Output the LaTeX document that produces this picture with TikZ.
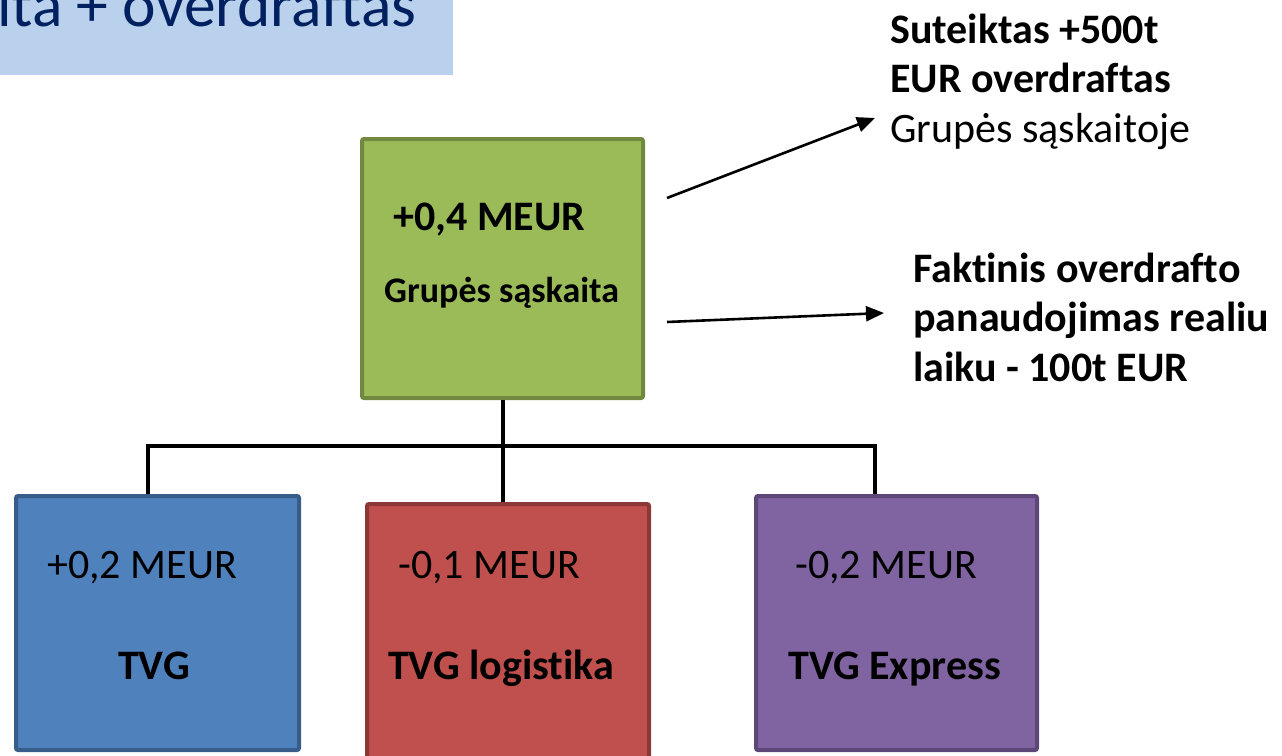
\documentclass[tikz,border=0pt]{standalone}
\usepackage{fontspec}
\setmainfont{Carlito}[Ligatures=NoCommon]
\usetikzlibrary{arrows.meta}
\definecolor{titlefill}{HTML}{B9D1EC}
\definecolor{titletext}{HTML}{002060}
\definecolor{gfill}{HTML}{9BBB59}
\definecolor{gline}{HTML}{71893F}
\definecolor{bfill}{HTML}{4F81BD}
\definecolor{bline}{HTML}{385D8A}
\definecolor{rfill}{HTML}{C0504D}
\definecolor{rline}{HTML}{8C3836}
\definecolor{pfill}{HTML}{8064A2}
\definecolor{pline}{HTML}{5C4776}
\begin{document}
\begin{tikzpicture}[x=1pt,y=-1pt,
  box/.style={draw, line width=4pt, rounded corners=2pt, anchor=north west, inner sep=0pt},
  txt/.style={anchor=base west, inner sep=0pt, font=\fontsize{42}{49.5}\selectfont},
  btxt/.style={txt, font=\fontsize{42}{49.5}\selectfont\bfseries},
  conn/.style={line width=4pt},
  arr/.style={line width=2.6pt, -{Triangle[length=18pt,width=15pt]}}]
\useasboundingbox (0,0) rectangle (1282,755);
\clip (0,0) rectangle (1282,755);
% title bar
\fill[titlefill] (-10,-10) rectangle (453,75);
\node[anchor=base west, inner sep=0pt, text=titletext, font=\fontsize{63.5}{70}\selectfont] (title) at (-3,26) {ita + overdraftas};
% boxes
\node[box, fill=gfill, draw=gline, minimum width=281pt, minimum height=259pt] (grp) at (360,137) {};
\node[box, fill=bfill, draw=bline, minimum width=283pt, minimum height=254pt] (tvg) at (14,494) {};
\node[box, fill=rfill, draw=rline, minimum width=282pt, minimum height=290pt] (log) at (365,502) {};
\node[box, fill=pfill, draw=pline, minimum width=281pt, minimum height=254pt] (exp) at (754,494) {};
% texts in boxes
\node[btxt] (g1) at (393,230) {+0,4 MEUR};
\node[txt, font=\fontsize{36}{42}\selectfont\bfseries] (g2) at (384,302) {Grupės sąskaita};
\node[txt] (b1) at (47,578) {+0,2 MEUR};
\node[btxt] (b2) at (118,679) {TVG};
\node[txt] (r1) at (398,578) {-0,1 MEUR};
\node[btxt] (r2) at (388,679) {TVG logistika};
\node[txt] (p1) at (795,578) {-0,2 MEUR};
\node[btxt] (p2) at (788,679) {TVG Express};
% side notes (base anchor = last line)
\node[txt, align=left] (note1) at (890,142) {\bfseries Suteiktas +500t\\\bfseries EUR overdraftas\\Grupės sąskaitoje};
\node[btxt, align=left] (note2) at (913,381) {Faktinis overdrafto\\panaudojimas realiu\\laiku - 100t EUR};
% connectors
\coordinate (jl) at (148,446);
\coordinate (jr) at (875,446);
\coordinate (tl) at (148,494);
\coordinate (tr) at (875,494);
\draw[conn] (grp.south) -- (grp.south |- log.north);
\draw[conn] (tl) -- (jl) -- (jr) -- (tr);
\coordinate (a1s) at (667,198);
\coordinate (a1e) at (875,118);
\coordinate (a2s) at (667,322);
\coordinate (a2e) at (884,313);
\draw[arr] (a1s) -- (a1e);
\draw[arr] (a2s) -- (a2e);
\end{tikzpicture}
\end{document}
